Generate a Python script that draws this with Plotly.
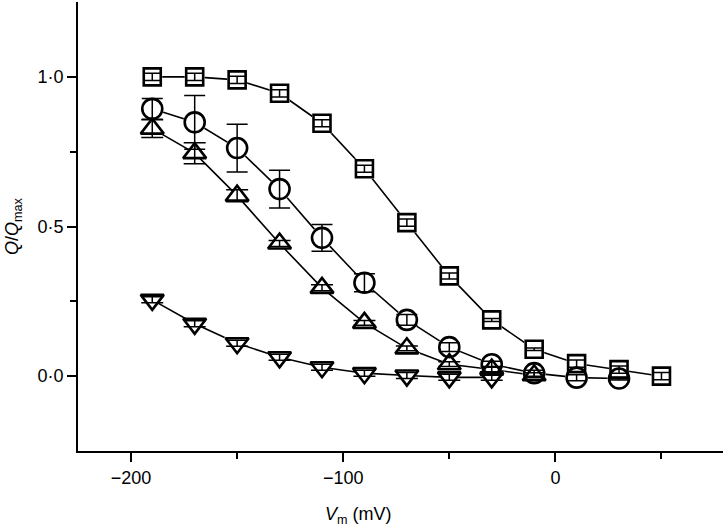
import plotly.graph_objects as go

vm = [-190, -170, -150, -130, -110, -90, -70, -50, -30, -10, 10, 30, 50]

sq_y = [1.0, 1.0, 0.99, 0.945, 0.845, 0.693, 0.513, 0.335, 0.188, 0.09, 0.042, 0.022, 0.0]
sq_err = [0.012, 0.012, 0.012, 0.012, 0.012, 0.012, 0.012, 0.01, 0.005, 0.004, 0.012, 0.012, 0.012]

ci_x = vm[:12]
ci_y = [0.893, 0.848, 0.762, 0.625, 0.462, 0.312, 0.188, 0.097, 0.04, 0.01, -0.005, -0.008]
ci_err = [0.035, 0.09, 0.08, 0.063, 0.045, 0.03, 0.018, 0.015, 0.01, 0.01, 0.01, 0.005]

tu_x = vm[:10]
tu_y = [0.827, 0.745, 0.603, 0.443, 0.295, 0.178, 0.093, 0.04, 0.022, 0.003]
tu_err = [0.03, 0.035, 0.02, 0.01, 0.01, 0.008, 0.008, 0.008, 0.01, 0.008]

td_x = vm[:9]
td_y = [0.255, 0.175, 0.11, 0.063, 0.03, 0.01, 0.002, -0.004, -0.004]
td_err = [0.01, 0.01, 0.01, 0.01, 0.01, 0.01, 0.01, 0.01, 0.01]

x_ticks = [-200, -100, 0]
x_ticktext = ["\u2212200", "\u2212100", "0"]
x_minor = [-150, -50, 50]
y_ticks = [0.0, 0.5, 1.0]
y_ticktext = ["0\u00b70", "0\u00b75", "1\u00b70"]
y_minor = [0.25, 0.75]

series = [
    (vm, sq_y, sq_err, "square", 17, 16),
    (ci_x, ci_y, ci_err, "circle", 20, 19),
    (tu_x, tu_y, tu_err, "triangle-up", 20, 20),
    (td_x, td_y, td_err, "triangle-down", 20, 20),
]

fig = go.Figure()

# connecting lines
for xs, ys, es, sym, size, _ in series:
    fig.add_trace(go.Scatter(x=xs, y=ys, mode="lines",
                             line=dict(color="black", width=1.6),
                             showlegend=False, hoverinfo="skip"))

# white masks under markers
for xs, ys, es, sym, size, _ in series:
    fig.add_trace(go.Scatter(x=xs, y=ys, mode="markers",
                             marker=dict(symbol=sym, size=size + 3, color="white",
                                         line=dict(width=0)),
                             showlegend=False, hoverinfo="skip"))

# error bars and marker outlines
for xs, ys, es, sym, size, capw in series:
    fig.add_trace(go.Scatter(x=xs, y=ys, mode="markers",
                             error_y=dict(type="data", array=es, visible=True,
                                          color="black", thickness=1.5, width=capw / 2 + 1),
                             marker=dict(symbol=sym + "-open", size=size, color="black",
                                         line=dict(width=2.6, color="black")),
                             showlegend=False))

font = dict(family="Liberation Sans, Arial, sans-serif", size=18, color="black")

fig.update_layout(
    width=723, height=527,
    margin=dict(l=78, r=0, t=2, b=76),
    paper_bgcolor="white", plot_bgcolor="white",
    font=font,
    showlegend=False,
    xaxis=dict(range=[-225, 79], showgrid=False, zeroline=False, automargin=False,
               showline=True, linecolor="black", linewidth=2,
               ticks="outside", ticklen=9, tickwidth=2, tickcolor="black",
               tickvals=x_ticks, ticktext=x_ticktext, tickfont=font,
               minor=dict(tickvals=x_minor, ticks="outside", ticklen=6,
                          tickwidth=2, tickcolor="black", showgrid=False)),
    yaxis=dict(range=[-0.25, 1.25], showgrid=False, zeroline=False, automargin=False,
               showline=True, linecolor="black", linewidth=2,
               ticks="outside", ticklen=9, tickwidth=2, tickcolor="black",
               tickvals=y_ticks, ticktext=y_ticktext, tickfont=font,
               minor=dict(tickvals=y_minor, ticks="outside", ticklen=6,
                          tickwidth=2, tickcolor="black", showgrid=False),
               title=dict(text="<i>Q</i>/<i>Q</i><sub>max</sub>", font=font, standoff=14)),
    annotations=[dict(text="<i>V</i><sub>m</sub> (mV)", x=-93, y=0, xref="x",
                      yref="paper", yshift=-64, showarrow=False, font=font,
                      xanchor="center", yanchor="middle")],
)

fig.write_html("out.html", config={"displayModeBar": False},
               post_script="document.body.style.margin='0';document.body.style.overflow='hidden';")
